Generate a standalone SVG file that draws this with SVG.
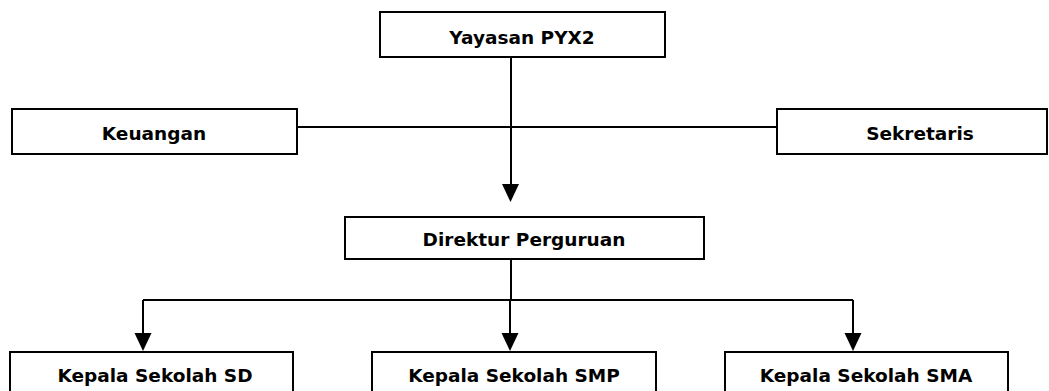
<svg xmlns="http://www.w3.org/2000/svg" width="1049" height="391" viewBox="0 0 1049 391">
<defs>
<style>
.box{fill:#fff;stroke:#000;stroke-width:2}
.lbl{font-family:"DejaVu Sans",Verdana,sans-serif;font-weight:bold;font-size:18.5px;fill:#000;text-anchor:middle}
.ln{fill:none;stroke:#000;stroke-width:2}
</style>
</defs>
<rect width="1049" height="391" fill="#fff"/>
<g id="connectors">
<line class="ln" x1="297" y1="127" x2="777" y2="127"/>
<path class="ln" d="M511,57 V184"/>
<path d="M502,184 L519,184 L510.5,202 Z" fill="#000"/>
<path class="ln" d="M511,259 V300"/>
<path class="ln" d="M143,300 H853"/>
<path class="ln" d="M143,300 V333"/>
<path d="M134.5,333 L151.5,333 L143,351 Z" fill="#000"/>
<path class="ln" d="M510,300 V333"/>
<path d="M501.5,333 L518.5,333 L510,351 Z" fill="#000"/>
<path class="ln" d="M853,300 V333"/>
<path d="M844.5,333 L861.5,333 L853,351 Z" fill="#000"/>
</g>
<g id="yayasan"><rect class="box" x="380" y="12" width="285" height="45"/><text class="lbl" x="522" y="44">Yayasan PYX2</text></g>
<g id="keuangan"><rect class="box" x="12" y="109" width="285" height="45"/><text class="lbl" x="154" y="140">Keuangan</text></g>
<g id="sekretaris"><rect class="box" x="777" y="109" width="270" height="45"/><text class="lbl" x="920" y="140">Sekretaris</text></g>
<g id="direktur"><rect class="box" x="345" y="217" width="359" height="42"/><text class="lbl" x="524" y="246">Direktur Perguruan</text></g>
<g id="sd"><rect class="box" x="10" y="352" width="283" height="50"/><text class="lbl" x="155" y="382">Kepala Sekolah SD</text></g>
<g id="smp"><rect class="box" x="372" y="352" width="284" height="50"/><text class="lbl" x="514" y="382">Kepala Sekolah SMP</text></g>
<g id="sma"><rect class="box" x="725" y="352" width="283" height="50"/><text class="lbl" x="866" y="382">Kepala Sekolah SMA</text></g>
</svg>
